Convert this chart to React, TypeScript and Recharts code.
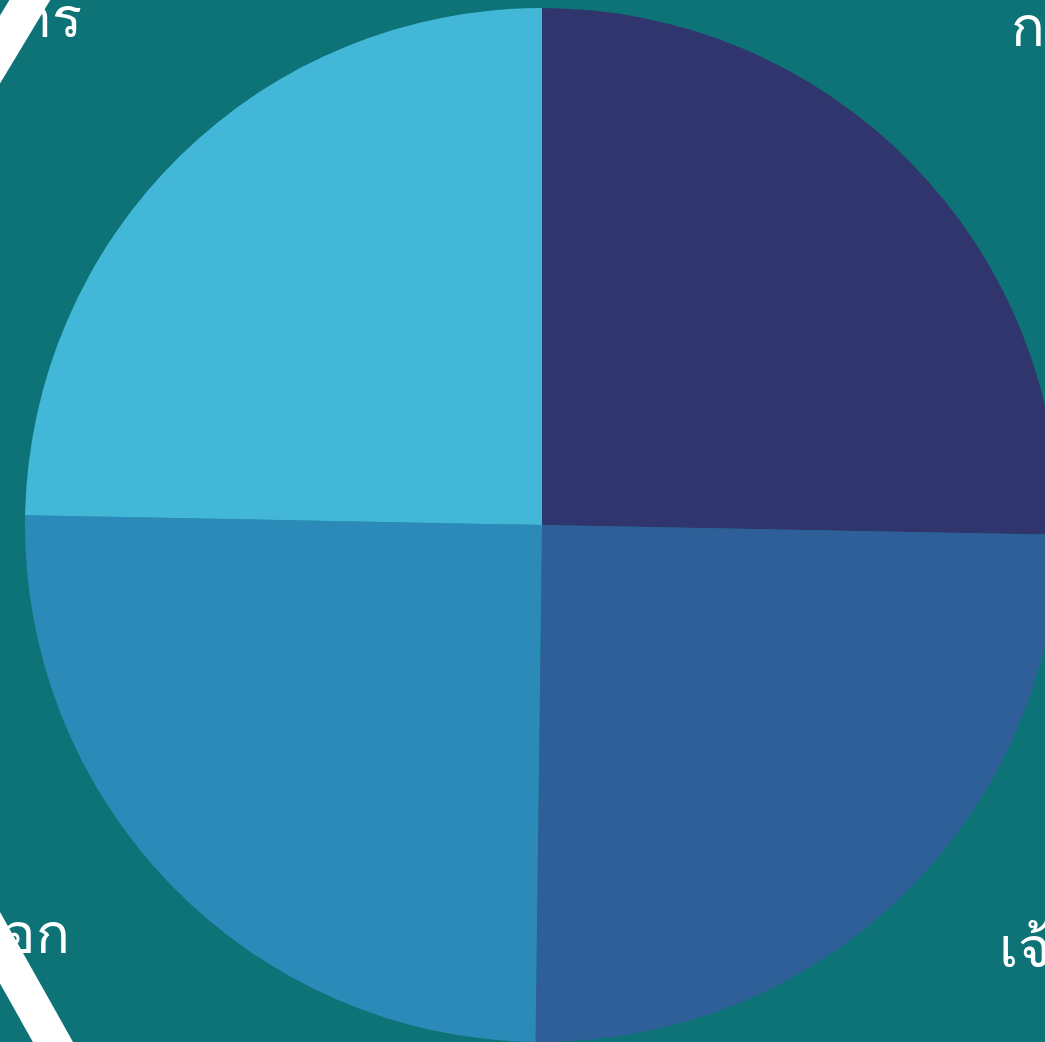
import React from "react";
import { PieChart, Pie, Cell, Customized } from "recharts";

const categories = ["กรรมการ", "เจ้าหน้าที่", "ภายนอก", "การบริหาร"];
const values = [25.3, 24.9, 25.1, 24.7];
const colors = ["#31356E", "#2E5F99", "#2C8AB9", "#42B7D8"];

const data = categories.map((name, i) => ({ name, value: values[i] }));

const BG = "#0E7376";
const RAD = Math.PI / 180;

const renderLabel = (props: any) => {
  const { cx, cy, midAngle, outerRadius, name } = props;
  const c = Math.cos(midAngle * RAD);
  const s = Math.sin(midAngle * RAD);
  const right = c > 0;
  const top = s > 0;
  const x = cx + outerRadius * 1.271 * c;
  const y = cy - outerRadius * (top ? 1.323 : 1.19) * s;
  return (
    <text
      x={x}
      y={y}
      fill="#ffffff"
      fontSize={56}
      fontFamily="'Noto Sans', sans-serif"
      textAnchor={right ? "start" : "end"}
    >
      {name}
    </text>
  );
};

const Bands = () => (
  <g>
    <line x1={66} y1={-60} x2={-151} y2={300} stroke="#ffffff" strokeWidth={35} />
    <line x1={85.5} y1={1100} x2={-139} y2={700} stroke="#ffffff" strokeWidth={35} />
  </g>
);

export default function App() {
  return (
    <div
      style={{
        position: "absolute",
        left: 0,
        top: 0,
        width: 1045,
        height: 1042,
        background: BG,
        overflow: "hidden",
      }}
    >
      <PieChart width={1045} height={1042} margin={{ top: 0, right: 0, bottom: 0, left: 0 }}>
        <Customized component={<Bands />} />
        <Pie
          data={data}
          dataKey="value"
          nameKey="name"
          cx={542}
          cy={525}
          outerRadius={517}
          startAngle={90}
          endAngle={-270}
          stroke="none"
          isAnimationActive={false}
          label={renderLabel}
          labelLine={false}
        >
          {data.map((d, i) => (
            <Cell key={d.name} fill={colors[i]} />
          ))}
        </Pie>
      </PieChart>
    </div>
  );
}
